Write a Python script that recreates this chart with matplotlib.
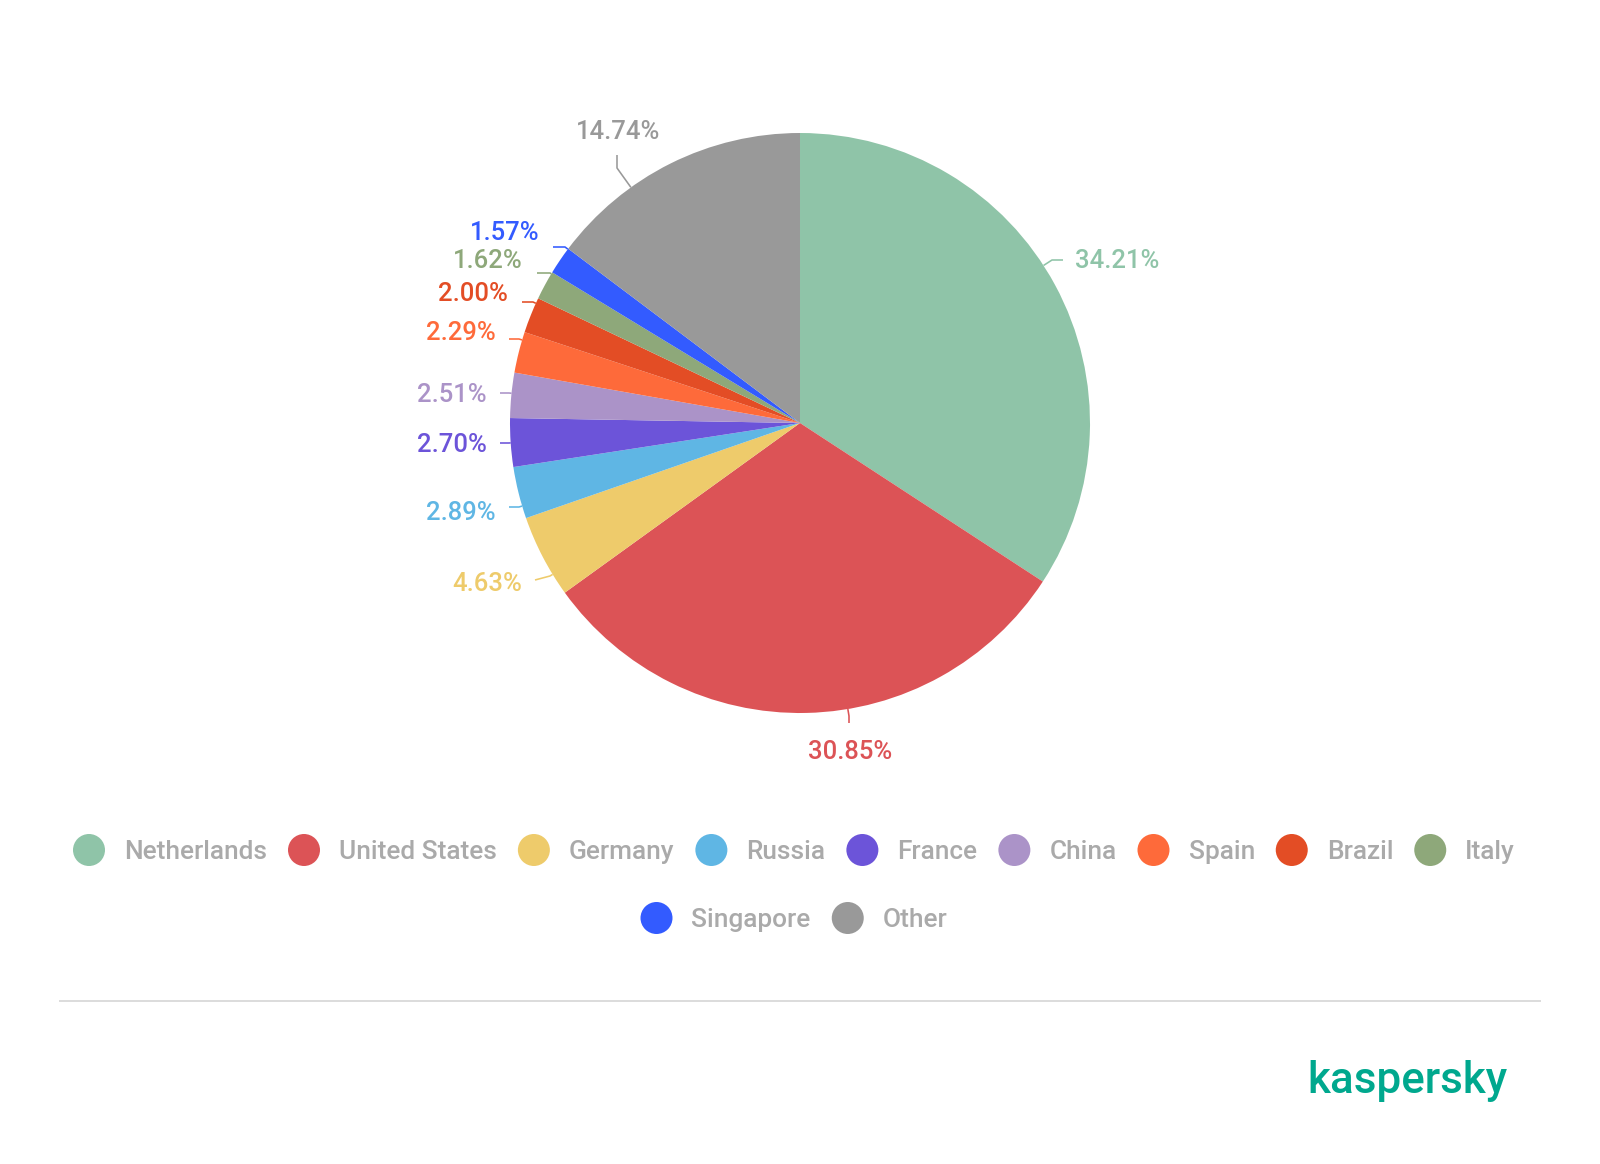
"""Pie of share by country (Kaspersky style), drawn in pixel coordinates."""

import matplotlib
matplotlib.use("Agg")
import matplotlib.pyplot as plt
from matplotlib.patches import Circle
import numpy as np

W, H = 1600, 1164
DPI = 100

countries = ["Netherlands", "United States", "Germany", "Russia", "France",
             "China", "Spain", "Brazil", "Italy", "Singapore", "Other"]
shares = [34.21, 30.85, 4.63, 2.89, 2.70, 2.51, 2.29, 2.00, 1.62, 1.57, 14.74]
colors = ["#8fc4a8", "#dc5356", "#eecb6b", "#5fb6e4", "#6c54d9", "#ab93c8",
          "#fe6a3a", "#e34d25", "#8ea87a", "#335bff", "#999999"]

# label layout in top-down pixels: text anchor, alignment, leader elbow and end
text_pos = [(1075, 259, "left"), (850, 750, "center"), (522, 582, "right"),
            (496, 511, "right"), (487, 443, "right"), (487, 393, "right"),
            (496, 331, "right"), (508, 292, "right"), (523, 259, "right"),
            (540, 231, "right"), (618, 130, "center")]
leader_elbow = [(1052, 260), (849, 716), (550, 576), (519, 507), (509, 443),
                (509, 393), (519, 339), (533, 302), (550, 273), (565, 247),
                (617, 168)]
leader_end = [(1063, 260), (849, 723), (535, 580), (509, 507), (500, 443),
              (500, 393), (509, 339), (522, 302), (537, 273), (553, 247),
              (617, 155)]

CX, CY, R = 800, 423, 290
FONT = "Roboto"


def up(y):
    return H - y


def pt(px):
    return px * 72.0 / DPI


fig = plt.figure(figsize=(W / DPI, H / DPI), dpi=DPI)
ax = fig.add_axes([0, 0, 1, 1])
ax.pie(shares, colors=colors, startangle=90, counterclock=False,
       center=(CX, up(CY)), radius=R, wedgeprops=dict(linewidth=0))
ax.set_xlim(0, W)
ax.set_ylim(0, H)
ax.set_aspect("equal")
ax.axis("off")

# percentage labels with leader lines
for val, col, (tx, ty, ha), (ex, ey), (nx, ny) in zip(
        shares, colors, text_pos, leader_elbow, leader_end):
    d = np.array([ex - CX, ey - CY], dtype=float)
    d = d / np.hypot(*d) * R
    ax_x = [CX + d[0], ex, nx]
    ax_y = [up(CY + d[1]), up(ey), up(ny)]
    ax.plot(ax_x, ax_y, color=col, lw=pt(1.6), solid_capstyle="butt")
    ax.text(tx, up(ty + 9), f"{val:.2f}%", color=col, ha=ha, va="baseline",
            fontsize=pt(25.6), family=FONT, fontweight="medium")

# legend (two centred rows)
rows = [countries[:9], countries[9:]]
row_y = [850, 918]
legend_fs = pt(26.2)
fig.canvas.draw()
renderer = fig.canvas.get_renderer()
idx = 0
for names, ry in zip(rows, row_y):
    items = []
    for name in names:
        t = ax.text(0, 0, name, fontsize=legend_fs, family=FONT,
                    fontweight="medium")
        w = t.get_window_extent(renderer).width
        t.remove()
        items.append((name, w))
    total = sum(51 + w for _, w in items) + 21 * (len(items) - 1)
    x = 794 - total / 2
    for name, w in items:
        ax.add_patch(Circle((x + 16, up(ry)), 16, color=colors[idx], lw=0))
        ax.text(x + 51, up(ry + 9), name, color="#aaaaaa", ha="left",
                va="baseline", fontsize=legend_fs, family=FONT,
                fontweight="medium")
        x += 51 + w + 21
        idx += 1

# separator and logo
ax.plot([60, 1540], [up(1001), up(1001)], color="#dcdcdc", lw=pt(2))
ax.text(1507, up(1093), "kaspersky", color="#00a88e", ha="right",
        va="baseline", fontsize=pt(44), family=FONT, fontweight="medium")

fig.savefig("out.png", dpi=DPI)
